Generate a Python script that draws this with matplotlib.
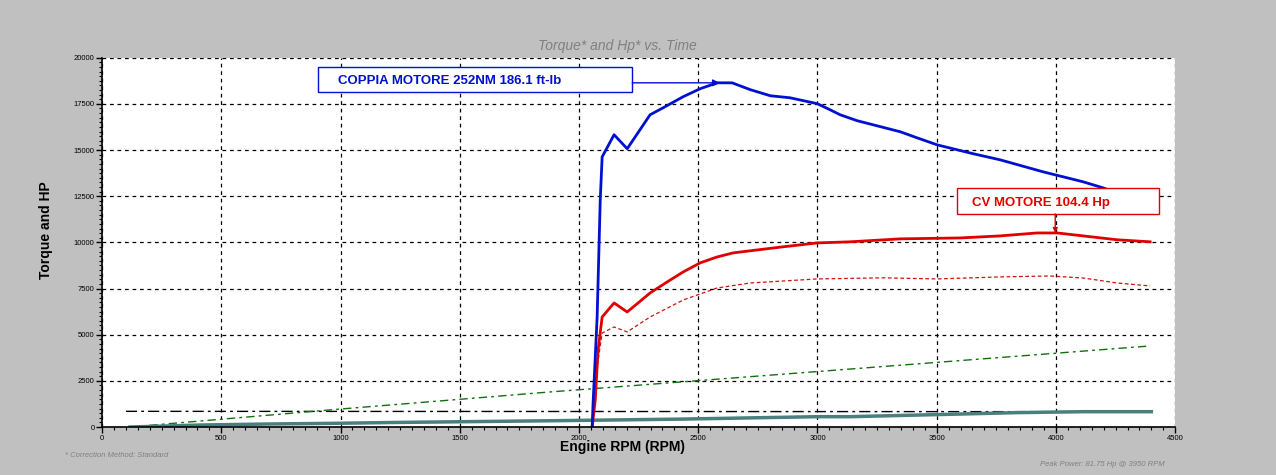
import numpy as np
import matplotlib
matplotlib.use("Agg")
import matplotlib.pyplot as plt
from matplotlib.patches import Rectangle
from matplotlib.ticker import MultipleLocator

plt.rcParams['font.family'] = ['Liberation Sans', 'DejaVu Sans']

# Torque curve (blue)
torque_rpm = [2055, 2059, 2076, 2089, 2097, 2147, 2202, 2298, 2353, 2437, 2508, 2579,
              2642, 2718, 2802, 2885, 2999, 3053, 3095, 3166, 3347, 3418, 3502, 3653,
              3766, 3946, 4114, 4198, 4400]
torque_val = [0, 1300, 5960, 12300, 14630, 15830, 15070, 16910, 17290, 17890, 18320, 18640,
              18640, 18270, 17940, 17830, 17510, 17180, 16910, 16590, 15990, 15660, 15280, 14800,
              14470, 13820, 13280, 12950, 12000]

# Power curve (red solid)
hp_rpm = [2055, 2068, 2080, 2097, 2147, 2202, 2298, 2370, 2437, 2508, 2579, 2646,
          2747, 2856, 2999, 3137, 3347, 3598, 3766, 3921, 4005, 4114, 4257, 4395]
hp_val = [0, 1460, 4170, 5960, 6720, 6230, 7260, 7860, 8400, 8890, 9210, 9430,
          9590, 9760, 9970, 10030, 10190, 10240, 10350, 10510, 10510, 10350, 10140, 10030]

# Second power run (red dashed)
hp2_rpm = [2055, 2076, 2097, 2147, 2202, 2298, 2437, 2579, 2718, 2999, 3275, 3502,
           3766, 3976, 4114, 4257, 4395]
hp2_val = [0, 3250, 5090, 5420, 5150, 5960, 6880, 7530, 7800, 8020, 8080, 8020,
           8130, 8180, 8070, 7800, 7640]

# Green dash-dot trace
green_rpm = [117, 1000, 1879, 3137, 4395]
green_val = [0, 975, 1900, 3140, 4390]

# Black dash-dot reference
black_rpm = [100, 4400]
black_val = [850, 830]

# Teal trace near the bottom
teal_rpm = [117, 411, 692, 969, 1250, 1879, 2437, 2999, 3137, 3556, 3837, 4114, 4400]
teal_val = [0, 108, 163, 200, 250, 340, 430, 560, 560, 690, 780, 830, 830]

# peak markers for the two labels
torque_peak = (2590, 18640)
hp_peak = (3997, 10510)

bg = "#c0c0c0"
blue = "#0010d0"
red = "#e00000"
fig = plt.figure(figsize=(12.76, 4.75), dpi=100, facecolor=bg)
ax = fig.add_axes([0.080, 0.101, 0.841, 0.7775])
ax.set_facecolor("white")

ax.plot(black_rpm, black_val, color="black", lw=1.0, dashes=(8, 3, 2, 3))
ax.plot(green_rpm, green_val, color="#107010", lw=1.0, dashes=(6, 3, 2, 3))
ax.plot(teal_rpm, teal_val, color="#4a7f7f", lw=2.5)
ax.plot(hp2_rpm, hp2_val, color="#d01010", lw=0.9, dashes=(3, 2))
ax.plot(hp_rpm, hp_val, color=red, lw=2.0)
ax.plot(torque_rpm, torque_val, color=blue, lw=2.0)

ax.set_xlim(0, 4500)
ax.set_ylim(0, 20000)
ax.xaxis.set_major_locator(MultipleLocator(500))
ax.xaxis.set_minor_locator(MultipleLocator(50))
ax.yaxis.set_major_locator(MultipleLocator(2500))
ax.yaxis.set_minor_locator(MultipleLocator(250))
ax.tick_params(axis="both", which="major", labelsize=5.5, length=4, width=1.0, pad=1.5)
ax.tick_params(axis="both", which="minor", length=2, width=0.8)
ax.grid(True, which="major", color="black", ls=(0, (3, 3)), lw=0.9)
for s in ("top", "right"):
    ax.spines[s].set_visible(False)
ax.spines["left"].set_linewidth(1.2)
ax.spines["bottom"].set_linewidth(1.2)

ax.set_xlabel("Engine RPM (RPM)", fontsize=10, fontweight="bold")
ax.xaxis.set_label_coords(0.485, -0.036)
ax.set_ylabel("Torque and HP", fontsize=10, fontweight="bold")
ax.yaxis.set_label_coords(-0.046, 0.534)
fig.text(0.484, 0.888, "Torque* and Hp* vs. Time", fontsize=10, style="italic",
         color="#808080", ha="center", va="bottom")

# label boxes (white, outlined) with arrows to the peaks
ax.add_patch(Rectangle((906, 18160), 1317, 1350, fc="white", ec=blue, lw=1.0, zorder=9))
ax.text(990, 18720, "COPPIA MOTORE 252NM 186.1 ft-lb", fontsize=9.5, fontweight="bold",
        color=blue, va="center", zorder=10)
ax.annotate("", xy=torque_peak, xytext=(2223, 18640),
            arrowprops=dict(arrowstyle="-|>", color=blue, lw=1.0, shrinkA=0, shrinkB=0,
                            mutation_scale=10), zorder=10)

ax.add_patch(Rectangle((3586, 11540), 847, 1410, fc="white", ec=red, lw=1.0, zorder=9,
                       clip_on=False))
ax.text(3649, 12130, "CV MOTORE 104.4 Hp", fontsize=9.5, fontweight="bold",
        color=red, va="center", zorder=10)
ax.annotate("", xy=hp_peak, xytext=(3997, 11540),
            arrowprops=dict(arrowstyle="-|>", color=red, lw=1.0, shrinkA=0, shrinkB=0,
                            mutation_scale=7), zorder=10)

fig.text(0.051, 0.038, "* Correction Method: Standard", fontsize=5.5, style="italic",
         color="#808080")
fig.text(0.815, 0.018, "Peak Power: 81.75 Hp @ 3950 RPM", fontsize=5.5, style="italic",
         color="#808080")

fig.savefig("out.png", dpi=100, facecolor=bg)
